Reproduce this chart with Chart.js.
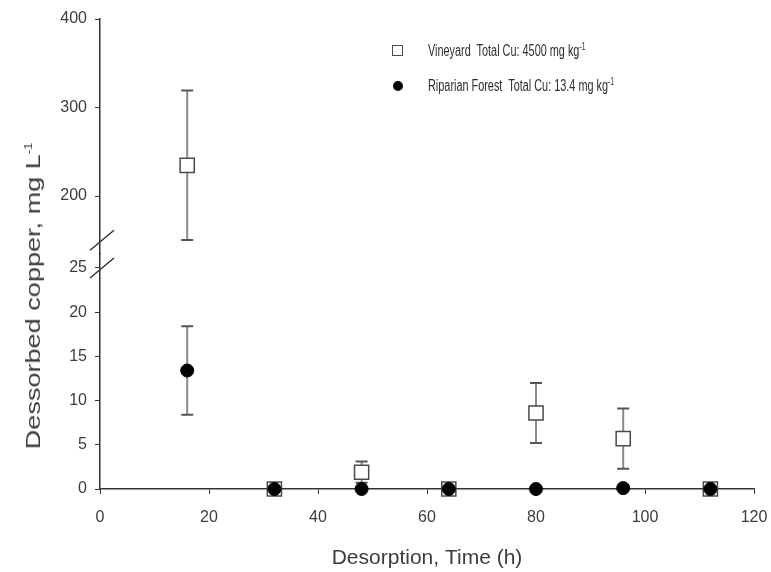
<!DOCTYPE html>
<html lang="en">
<head>
<meta charset="UTF-8" />
<title>Desorbed copper</title>
<script src="https://cdn.jsdelivr.net/npm/chart.js@4.4.1/dist/chart.umd.min.js"></script>
<style>
    body { margin: 0; background: #fff; }
    #wrap { position: relative; width: 771px; height: 572px; font-family: "Liberation Sans", Arial, sans-serif; color: #3c3c3c; }
    #yTitle { position: absolute; left: 33px; top: 296px; font-size: 21px; white-space: nowrap;
        transform: translate(-50%, -50%) rotate(-90deg) scaleX(1.29); }
    #legend { position: absolute; left: 390px; top: 41px; font-size: 16px; color: #2e2e2e; }
    .row { position: relative; height: 35px; white-space: nowrap; }
    .row span.txt { position: absolute; left: 38px; top: 0; transform: scaleX(0.68); transform-origin: left center; }
    .sq { position: absolute; left: 2px; top: 4px; width: 9px; height: 9px; border: 1.5px solid #4a4a4a; background: #fff; }
    .dot { position: absolute; left: 3px; top: 5px; width: 10px; height: 10px; border-radius: 50%; background: #000; }
    sup { font-size: 10px; }
</style>
</head>
<body>
<div id="wrap">
    <canvas id="myChart"></canvas>
    <div id="yTitle">Dessorbed copper, mg L<sup>-1</sup></div>
    <div id="legend">
        <div class="row"><div class="sq"></div><span class="txt">Vineyard&nbsp; Total Cu: 4500 mg kg<sup>-1</sup></span></div>
        <div class="row"><div class="dot"></div><span class="txt">Riparian Forest&nbsp; Total Cu: 13.4 mg kg<sup>-1</sup></span></div>
    </div>
</div>
<script>
    // sampling times (h)
    const times = [16, 32, 48, 64, 80, 96, 112];
    // Vineyard, mg/L, with error
    const vineyard = [234.7, 0, 1.9, 0, 8.6, 5.7, 0];
    const vineyardErr = [84.5, 0, 1.2, 0, 3.4, 3.4, 0];
    // Riparian forest
    const riparian = [13.4, 0, 0, 0, 0, 0.1, 0];
    const riparianErr = [5.0, 0, 0, 0, 0, 0, 0];

    const xTicks = [0, 20, 40, 60, 80, 100, 120];
    const lowTicks = [0, 5, 10, 15, 20, 25];
    const highTicks = [200, 300, 400];
    const breakLow = 25;    // top of lower panel
    const breakHigh = 150;  // bottom of upper panel

    const txt = '#3c3c3c';
    const font = "'Liberation Sans', Arial, sans-serif";

    // split vineyard into lower / upper panels
    let vinLow = [], vinLowErr = [], vinHigh = [], vinHighErr = [];
    times.forEach((t, i) => {
        if (vineyard[i] > breakLow) {
            vinHigh.push({ x: t, y: vineyard[i] });
            vinHighErr.push(vineyardErr[i]);
        } else {
            vinLow.push({ x: t, y: vineyard[i] });
            vinLowErr.push(vineyardErr[i]);
        }
    });
    let rip = times.map((t, i) => ({ x: t, y: riparian[i] }));

    const squareStyle = {
        pointStyle: 'rect', pointRadius: 10, pointBorderWidth: 1.5,
        pointBorderColor: '#4a4a4a', pointBackgroundColor: '#fff', showLine: false, clip: false
    };

    const errorBars = {
        id: 'errorBars',
        beforeDatasetsDraw(chart) {
            const ctx = chart.ctx;
            const xs = chart.scales.x;
            chart.data.datasets.forEach((ds, i) => {
                const meta = chart.getDatasetMeta(i);
                const ys = chart.scales[meta.yAxisID];
                ds.data.forEach((p, j) => {
                    const e = ds.errors[j];
                    if (!e) return;
                    const px = xs.getPixelForValue(p.x);
                    const top = ys.getPixelForValue(p.y + e);
                    const bot = ys.getPixelForValue(p.y - e);
                    ctx.save();
                    ctx.strokeStyle = '#8a8a8a';
                    ctx.lineWidth = 2;
                    ctx.beginPath();
                    ctx.moveTo(px, top); ctx.lineTo(px, bot);
                    ctx.stroke();
                    ctx.strokeStyle = '#555';
                    ctx.beginPath();
                    ctx.moveTo(px - 6, top); ctx.lineTo(px + 6, top);
                    ctx.moveTo(px - 6, bot); ctx.lineTo(px + 6, bot);
                    ctx.stroke();
                    ctx.restore();
                });
            });
        }
    };

    const axisBreak = {
        id: 'axisBreak',
        afterDraw(chart) {
            const ctx = chart.ctx;
            const x0 = chart.scales.x.getPixelForValue(0) + 2;
            const yA = chart.scales.yTop.getPixelForValue(breakHigh);
            const yB = chart.scales.y.getPixelForValue(breakLow);
            ctx.save();
            ctx.strokeStyle = '#333';
            ctx.lineWidth = 1.5;
            ctx.beginPath();
            [yA, yB].forEach(yy => {
                ctx.moveTo(x0 - 12, yy + 10);
                ctx.lineTo(x0 + 12, yy - 10);
            });
            ctx.stroke();
            ctx.restore();
        }
    };

    function fixedTicks(list) {
        return scale => { scale.ticks = list.map(v => ({ value: v })); };
    }

    const tickFont = { family: font, size: 16 };

    new Chart(document.getElementById('myChart'), {
        type: 'scatter',
        data: {
            datasets: [
                { label: 'Riparian Forest', data: rip, errors: riparianErr, yAxisID: 'y',
                  pointStyle: 'circle', pointRadius: 6.5, pointBackgroundColor: '#000',
                  pointBorderColor: '#000', pointBorderWidth: 1, order: 0, clip: false },
                Object.assign({ label: 'Vineyard', data: vinLow, errors: vinLowErr, yAxisID: 'y', order: 1 }, squareStyle),
                Object.assign({ label: 'Vineyard high', data: vinHigh, errors: vinHighErr, yAxisID: 'yTop', order: 1 }, squareStyle)
            ]
        },
        options: {
            responsive: true,
            maintainAspectRatio: false,
            animation: false,
            layout: { padding: { top: 19, right: 17, left: 0, bottom: 0 } },
            plugins: {
                legend: { display: false },
                tooltip: { enabled: false }
            },
            scales: {
                x: {
                    type: 'linear', min: 0, max: 120,
                    afterBuildTicks: fixedTicks(xTicks),
                    afterFit: s => { s.height = 83; s.paddingLeft = 0; s.paddingRight = 0; },
                    grid: { drawOnChartArea: false, drawTicks: true, tickLength: 5, color: '#333' },
                    border: { color: '#333', width: 1.5 },
                    ticks: { font: tickFont, color: txt, padding: 14, maxRotation: 0 },
                    title: { display: true, text: 'Desorption, Time (h)', color: txt,
                             font: { family: font, size: 21 }, padding: { top: 0, bottom: 1 } }
                },
                y: {
                    type: 'linear', position: 'left', stack: 'yy', stackWeight: 1, weight: 1,
                    min: 0, max: 26.58,
                    afterBuildTicks: fixedTicks(lowTicks),
                    afterFit: s => { s.width = 100; },
                    grid: { drawOnChartArea: false, drawTicks: true, tickLength: 5, color: '#333' },
                    border: { color: '#333', width: 1.5 },
                    ticks: { font: tickFont, color: txt, padding: 8 }
                },
                yTop: {
                    type: 'linear', position: 'left', stack: 'yy', stackWeight: 1, weight: 2,
                    min: 134.5, max: 400,
                    afterBuildTicks: fixedTicks(highTicks),
                    afterFit: s => { s.width = 100; },
                    grid: { drawOnChartArea: false, drawTicks: true, tickLength: 5, color: '#333' },
                    border: { color: '#333', width: 1.5 },
                    ticks: { font: tickFont, color: txt, padding: 8 }
                }
            }
        },
        plugins: [errorBars, axisBreak]
    });
</script>
</body>
</html>
